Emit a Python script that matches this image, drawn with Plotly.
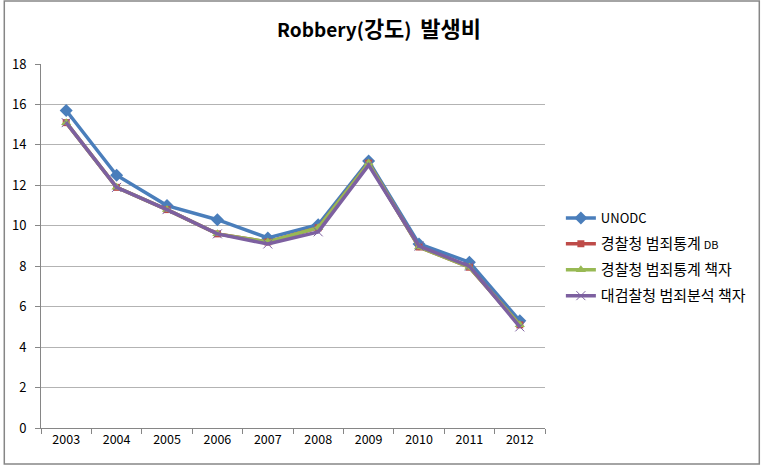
import plotly.graph_objects as go

years = ["2003", "2004", "2005", "2006", "2007", "2008", "2009", "2010", "2011", "2012"]
unodc = [15.7, 12.5, 11.0, 10.3, 9.4, 10.05, 13.2, 9.1, 8.2, 5.3]
police_db = [15.1, 11.9, 10.8, 9.6, 9.2, 9.9, 13.1, 8.95, 7.95, 5.1]
police_book = [15.1, 11.9, 10.8, 9.6, 9.2, 9.9, 13.1, 8.95, 7.95, 5.1]
prosecution_book = [15.1, 11.9, 10.8, 9.6, 9.1, 9.7, 13.0, 9.0, 8.0, 5.0]
y_ticks = [0, 2, 4, 6, 8, 10, 12, 14, 16, 18]


def ko(s, size=15):
    return f"<span style='font-size:{size}px'>{s}</span>"


names = [
    "UNODC",
    ko("경찰청 범죄통계") + " <span style='font-size:11px'>DB</span>",
    ko("경찰청 범죄통계 책자"),
    ko("대검찰청 범죄분석 책자"),
]

W, H = 763, 465
L, R, T, B = 38, 217, 64, 37
pw, ph = W - L - R, H - T - B

font = "Malgun Gothic, Noto Sans CJK KR, sans-serif"
fig = go.Figure()
series = [
    (unodc, names[0], "#4A7EBB", "diamond", 10),
    (police_db, names[1], "#BE4B48", "square", 7),
    (police_book, names[2], "#98B954", "triangle-up", 9),
    (prosecution_book, names[3], "#7D60A0", "x-thin-open", 9),
]
for i, (vals, nm, col, sym, sz) in enumerate(series):
    mk = dict(symbol=sym, size=sz, color=col)
    if sym == "x-thin-open":
        mk["line"] = dict(color=col, width=1)
    fig.add_trace(go.Scatter(
        x=years, y=vals, name=nm, mode="lines+markers",
        line=dict(color=col, width=3.5), marker=mk, legendgroup=f"g{i}",
    ))

fig.update_layout(
    width=W, height=H,
    margin=dict(l=L, r=R, t=T, b=B),
    paper_bgcolor="white", plot_bgcolor="white",
    title=dict(text="<b>Robbery(" + ko("강도", 22) + ")  " + ko("발생비", 22) + "</b>",
               x=379 / W, xanchor="center", y=1 - 30 / H, yanchor="middle",
               font=dict(family=font, size=19, color="black")),
    font=dict(family=font, size=13, color="black"),
    legend=dict(x=(562 - L) / pw, y=(428 - 257) / ph, xanchor="left", yanchor="middle",
                font=dict(family=font, size=13, color="black"),
                tracegroupgap=6, itemwidth=30, bgcolor="rgba(0,0,0,0)"),
    showlegend=True,
)
fig.update_xaxes(type="category", tickson="boundaries", ticks="outside", ticklen=5,
                 tickcolor="#868686", showline=True, linecolor="#868686", linewidth=1,
                 showgrid=False, tickfont=dict(size=12.5), range=[-0.5, 9.5])
fig.update_yaxes(range=[0, 18], tickvals=y_ticks, ticks="outside", ticklen=5,
                 tickcolor="#868686", showline=True, linecolor="#868686", linewidth=1,
                 showgrid=True, gridcolor="#B3B3B3", gridwidth=1, zeroline=False,
                 ticklabelstandoff=6, tickfont=dict(size=13))
fig.add_shape(type="rect", xref="paper", yref="paper",
              x0=(-L + 1) / pw, x1=(W - L - 1) / pw, y0=(-B + 1) / ph, y1=(H - B - 1) / ph,
              line=dict(color="#868686", width=1.5), layer="below")
fig.write_html("out.html")
